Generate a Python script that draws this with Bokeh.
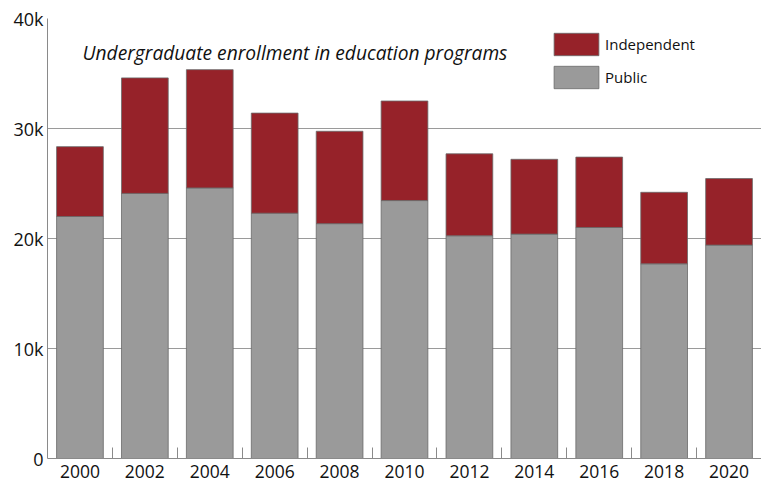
from bokeh.plotting import figure
from bokeh.models import Range1d, FixedTicker, Label, Legend, LegendItem, ColumnDataSource
from bokeh.embed import file_html
from bokeh.resources import INLINE

years = ["2000", "2002", "2004", "2006", "2008", "2010", "2012", "2014", "2016", "2018", "2020"]
public = [22000, 24100, 24600, 22300, 21350, 23450, 20250, 20400, 21000, 17700, 19400]
total = [28350, 34600, 35350, 31400, 29750, 32500, 27700, 27200, 27400, 24200, 25450]
independent = [t - p for t, p in zip(total, public)]
y_ticks = [0, 10000, 20000, 30000, 40000]
y_tick_labels = ["0", "10k", "20k", "30k", "40k"]
title_text = "Undergraduate enrollment in education programs"

RED = "#962229"
GRAY = "#9a9a9a"
FONT = "Open Sans"

idx = list(range(len(years)))
src = ColumnDataSource(dict(x=idx, public=public, independent=independent))

p = figure(frame_width=714, frame_height=440, output_backend="svg", toolbar_location=None,
           x_range=Range1d(-0.5, len(years) - 0.5), y_range=Range1d(0, 40000),
           min_border_left=47, min_border_right=0, min_border_top=18, min_border_bottom=24)

rs = p.vbar_stack(["public", "independent"], x="x", width=0.72, source=src,
                  fill_color=[GRAY, RED], line_color="#6a6a6a", line_width=0.8)

p.outline_line_color = None
p.xgrid.grid_line_color = None
p.ygrid.grid_line_color = "#9a9a9a"
p.ygrid.grid_line_width = 1
p.ygrid.ticker = FixedTicker(ticks=y_ticks)

p.yaxis.ticker = FixedTicker(ticks=y_ticks)
p.yaxis.major_label_overrides = {t: l for t, l in zip(y_ticks, y_tick_labels)}
p.yaxis.major_tick_in = 0
p.yaxis.major_tick_out = 0
p.yaxis.minor_tick_line_color = None
p.yaxis.axis_line_color = "#8a8a8a"
p.yaxis.major_label_text_font = FONT
p.yaxis.major_label_text_font_size = "18px"
p.yaxis.major_label_text_color = "#111111"
p.yaxis.major_label_standoff = 4

p.xaxis.ticker = FixedTicker(ticks=idx, minor_ticks=[i + 0.5 for i in idx[:-1]])
p.xaxis.major_label_overrides = {i: y for i, y in zip(idx, years)}
p.xaxis.major_tick_line_color = None
p.xaxis.minor_tick_in = 11
p.xaxis.minor_tick_out = 0
p.xaxis.minor_tick_line_color = "#8a8a8a"
p.xaxis.axis_line_color = "#8a8a8a"
p.xaxis.major_label_text_font = FONT
p.xaxis.major_label_text_font_size = "17.5px"
p.xaxis.major_label_text_color = "#111111"
p.xaxis.major_label_standoff = 0

p.add_layout(Label(x=0.04, y=36900, text=title_text, text_font=FONT, text_font_style="italic",
                   text_font_size="19.2px", text_color="#111111", text_baseline="alphabetic"))

legend = Legend(items=[LegendItem(label="Independent", renderers=[rs[1]]),
                       LegendItem(label="Public", renderers=[rs[0]])],
                location=(501, 367), glyph_width=56, glyph_height=28, spacing=5,
                padding=0, margin=0, label_standoff=1, border_line_color=None,
                background_fill_alpha=0, label_text_font=FONT, label_text_font_size="15px",
                label_text_color="#111111")
p.add_layout(legend)

open("out.html", "w").write(file_html(p, INLINE))
